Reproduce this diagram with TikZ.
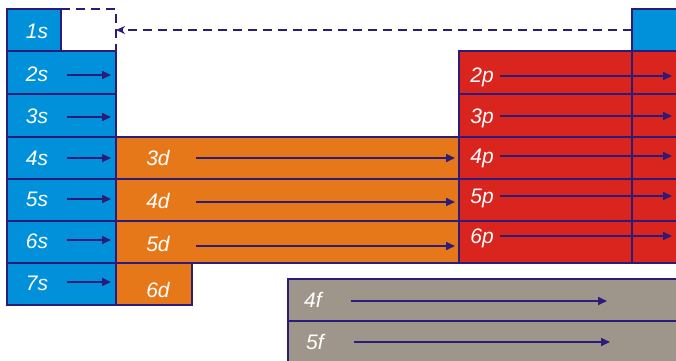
\documentclass[tikz,border=0pt]{standalone}
\usepackage{fontspec}
\setmainfont{Liberation Sans}
\usetikzlibrary{arrows.meta}
\definecolor{sblue}{RGB}{0,145,218}
\definecolor{pred}{RGB}{217,37,30}
\definecolor{dorange}{RGB}{230,120,25}
\definecolor{fgray}{RGB}{158,150,138}
\definecolor{navy}{RGB}{42,28,120}
\tikzset{
  cell/.style={draw=navy,line width=1.6pt},
  lbl/.style={text=white,font=\fontsize{21}{24}\selectfont\itshape,inner sep=0pt},
  arr/.style={draw=navy,line width=1.6pt,-{Triangle[length=9pt,width=8pt]}},
  dasharr/.style={draw=navy,line width=1.6pt,dash pattern=on 9pt off 6pt,-{Stealth[length=9pt,width=8pt]}},
}
\begin{document}
\begin{tikzpicture}[x=1pt,y=-1pt]
\useasboundingbox (0,0) rectangle (676,360);
\clip (0,0) rectangle (676,360);
% s block
\fill[sblue] (7,9) rectangle (61,51);
\fill[sblue] (7,51) rectangle (116,305);
\draw[cell] (7,9) rectangle (61,51);
\foreach \a/\b in {51/94,94/137,137/179,179/221,221/263,263/305}
  \draw[cell] (7,\a) rectangle (116,\b);
% dashed outline
\draw[navy,line width=1.6pt,dash pattern=on 9pt off 6pt] (61,9) -- (116,9) -- (116,51);
% top right blue
\fill[sblue] (632,9) rectangle (690,51);
\draw[cell] (632,9) rectangle (690,51);
% d block
\fill[dorange] (116,137) rectangle (459,263);
\foreach \a/\b in {137/179,179/221,221/263}
  \draw[cell] (116,\a) rectangle (459,\b);
\fill[dorange] (116,263) rectangle (192,305);
\draw[cell] (116,263) rectangle (192,305);
% p block
\fill[pred] (459,51) rectangle (690,263);
\foreach \a/\b in {51/94,94/137,137/179,179/221,221/263}{
  \draw[cell] (459,\a) rectangle (632,\b);
  \draw[cell] (632,\a) rectangle (690,\b);}
% f block
\fill[fgray] (288,279) rectangle (690,370);
\draw[cell] (288,279) rectangle (690,321);
\draw[cell] (288,321) rectangle (690,370);
% labels
\node[lbl] (l1s) at (37,31) {1s};
\node[lbl] (l2s) at (37,74) {2s};
\node[lbl] (l3s) at (37,116) {3s};
\node[lbl] (l4s) at (37,158) {4s};
\node[lbl] (l5s) at (37,199) {5s};
\node[lbl] (l6s) at (37,241) {6s};
\node[lbl] (l7s) at (37,283) {7s};
\node[lbl] (l3d) at (158,158) {3d};
\node[lbl] (l4d) at (158,201) {4d};
\node[lbl] (l5d) at (158,244) {5d};
\node[lbl] (l6d) at (158,290) {6d};
\node[lbl] (l2p) at (482,77) {2p};
\node[lbl] (l3p) at (482,118) {3p};
\node[lbl] (l4p) at (482,158) {4p};
\node[lbl] (l5p) at (482,198) {5p};
\node[lbl] (l6p) at (482,238) {6p};
\node[lbl] (l4f) at (313,300) {4f};
\node[lbl] (l5f) at (315,342) {5f};
% arrow end points
\foreach \n/\y in {2/75,3/117,4/158,5/199,6/240,7/282}{
  \coordinate (s\n a) at (67,\y); \coordinate (s\n b) at (111,\y);
  \draw[arr] (s\n a) -- (s\n b);}
\foreach \n/\y in {3/158,4/202,5/246}{
  \coordinate (d\n a) at (196,\y); \coordinate (d\n b) at (455,\y);
  \draw[arr] (d\n a) -- (d\n b);}
\foreach \n/\y in {2/76,3/116,4/156,5/196,6/236}{
  \coordinate (p\n a) at (500,\y); \coordinate (p\n b) at (672,\y);
  \draw[arr] (p\n a) -- (p\n b);}
\coordinate (f4a) at (351,301); \coordinate (f4b) at (607,301);
\coordinate (f5a) at (354,342); \coordinate (f5b) at (610,342);
\draw[arr] (f4a) -- (f4b);
\draw[arr] (f5a) -- (f5b);
% dashed arrow
\coordinate (da) at (632,30); \coordinate (db) at (116,30);
\draw[dasharr] (da) -- (db);
\end{tikzpicture}
\end{document}
